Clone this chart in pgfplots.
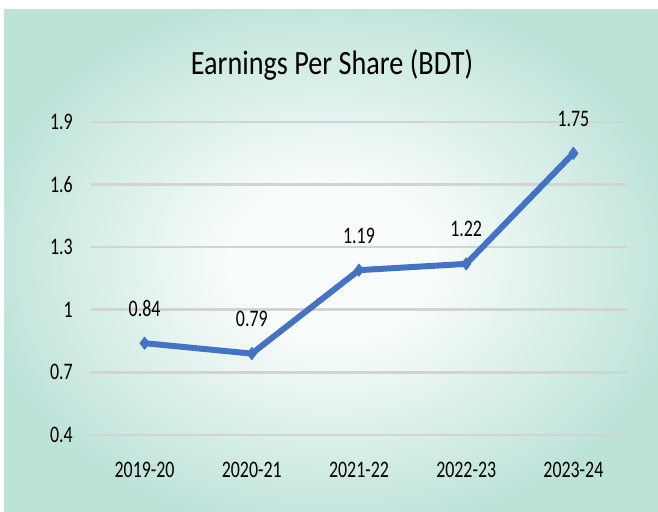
\documentclass[border=0pt]{standalone}
\usepackage{pgfplots}
\pgfplotsset{compat=1.18}
\usepackage{fontspec}
\setmainfont{Carlito}
\newfontfamily\tickfont{Carlito}[FakeStretch=0.755]
\newfontfamily\titlefont{Carlito}[FakeStretch=0.83]
\definecolor{bgteal}{RGB}{189,227,217}
\definecolor{bgcenter}{RGB}{248,252,251}
\definecolor{gridc}{RGB}{211,211,213}
\definecolor{lineblue}{RGB}{68,114,196}
\pgfdeclareradialshading{bgshade}{\pgfpoint{0bp}{0bp}}{color(0bp)=(bgcenter); color(8bp)=(bgcenter); color(27bp)=(bgteal); color(60bp)=(bgteal)}
\begin{document}
\begin{tikzpicture}
\fill[white] (0,0) rectangle (658bp,512bp);
\shade[shading=bgshade] (4bp,0) rectangle (658bp,502bp);
\node[anchor=base, inner sep=0pt, text=black] at (332bp,437.7bp) {\titlefont\fontsize{34bp}{40bp}\selectfont Earnings Per Share (BDT)};
\begin{axis}[
  at={(91bp,77bp)}, anchor=south west,
  width=536bp, height=313bp, scale only axis,
  xmin=-0.5, xmax=4.5, ymin=0.4, ymax=1.9,
  axis line style={draw=none},
  major tick length=0pt,
  xtick={0,1,2,3,4},
  xticklabels={2019-20,2020-21,2021-22,2022-23,2023-24},
  ytick={0.4,0.7,1,1.3,1.6,1.9},
  yticklabels={0.4,0.7,1,1.3,1.6,1.9},
  /pgf/number format/assume math mode=true,
  ymajorgrids,
  major grid style={draw=gridc, line width=2.6bp},
  xticklabel style={font=\tickfont\fontsize{23.7bp}{28bp}\selectfont, anchor=north, inner sep=0pt, yshift=-27bp, text=black},
  yticklabel style={font=\tickfont\fontsize{23.7bp}{28bp}\selectfont, anchor=east, inner sep=0pt, xshift=-18bp, text=black},
  clip=false,
  point meta=explicit symbolic,
  nodes near coords,
  every node near coord/.append style={font=\tickfont\fontsize{23.7bp}{28bp}\selectfont, anchor=base, inner sep=0pt, yshift=27bp, text=black},
]
\addplot[color=lineblue, line width=6bp, line join=round, mark=diamond*, mark size=6bp, mark options={solid, fill=lineblue, line width=1bp}]
coordinates {(0,0.84) [0.84] (1,0.79) [0.79] (2,1.19) [1.19] (3,1.22) [1.22] (4,1.75) [1.75]};
\end{axis}
\end{tikzpicture}
\end{document}
